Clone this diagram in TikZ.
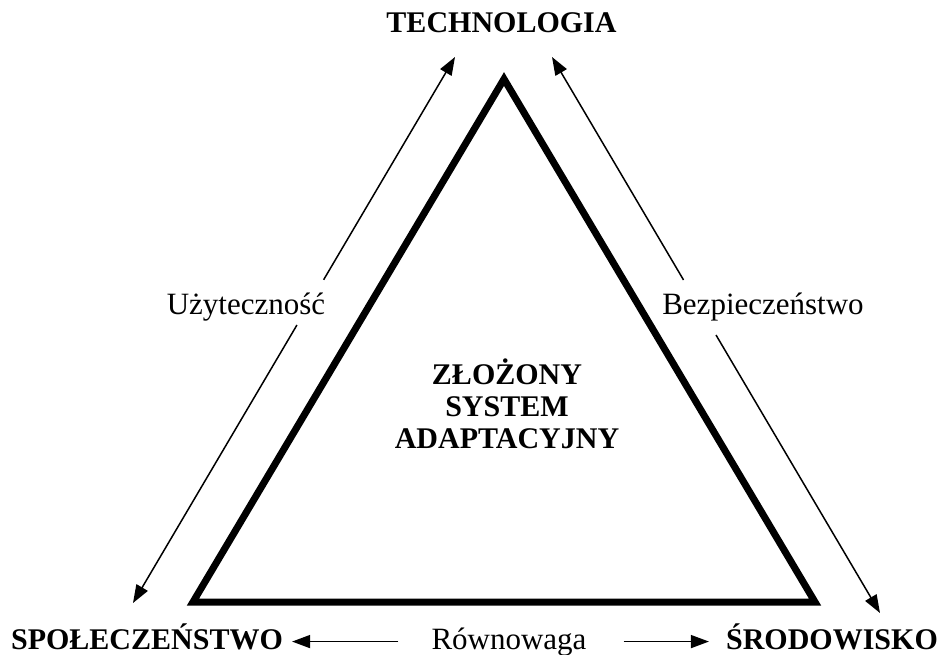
\documentclass[tikz,border=0pt]{standalone}
\usepackage{fontspec}
\setmainfont{Liberation Serif}
\usetikzlibrary{arrows.meta,calc}
\begin{document}
\begin{tikzpicture}[x=1pt,y=-1pt,
  lbl/.style={font=\fontsize{30}{32}\selectfont\bfseries, inner sep=0pt},
  rel/.style={font=\fontsize{31}{33}\selectfont, inner sep=0pt},
  tri/.style={line width=7pt, line join=miter},
  arr/.style={line width=1.5pt, -{Triangle[length=18pt,width=13pt]}}]
\useasboundingbox (0,0) rectangle (946,655);
% labels
\node[lbl, anchor=base] (tech) at (501.5,33) {TECHNOLOGIA};
\node[lbl, anchor=base] (spol) at (147,649) {SPOŁECZEŃSTWO};
\node[lbl, anchor=base] (srod) at (832,649) {ŚRODOWISKO};
\node[rel, anchor=base] (rown) at (509,649) {Równowaga};
\node[rel] (uzyt) at (246,307) {Użyteczność};
\node[rel] (bezp) at (763,307) {Bezpieczeństwo};
\node[lbl, align=center] (zsa) at (507,404) {ZŁOŻONY\\SYSTEM\\ADAPTACYJNY};
% triangle
\coordinate (tA) at (504,79);
\coordinate (tB) at (193,602);
\coordinate (tC) at (815,602);
\draw[tri] (tA) -- (tB) -- (tC) -- cycle;
% diagonal arrows
\coordinate (uT) at (455,57);
\coordinate (uB) at (133,603);
\draw[arr] ($(uT)!0.408!(uB)$) -- (uT);
\draw[arr] ($(uT)!0.491!(uB)$) -- (uB);
\coordinate (bT) at (552,57);
\coordinate (bB) at (880,613);
\draw[arr] ($(bT)!0.401!(bB)$) -- (bT);
\draw[arr] ($(bT)!0.5!(bB)$) -- (bB);
% bottom arrows
\draw[arr, shorten <=33pt, shorten >=9pt] (rown.west) -- (rown.west -| spol.east);
\draw[arr, shorten <=37pt, shorten >=17pt] (rown.east) -- (rown.east -| srod.west);
\end{tikzpicture}
\end{document}
